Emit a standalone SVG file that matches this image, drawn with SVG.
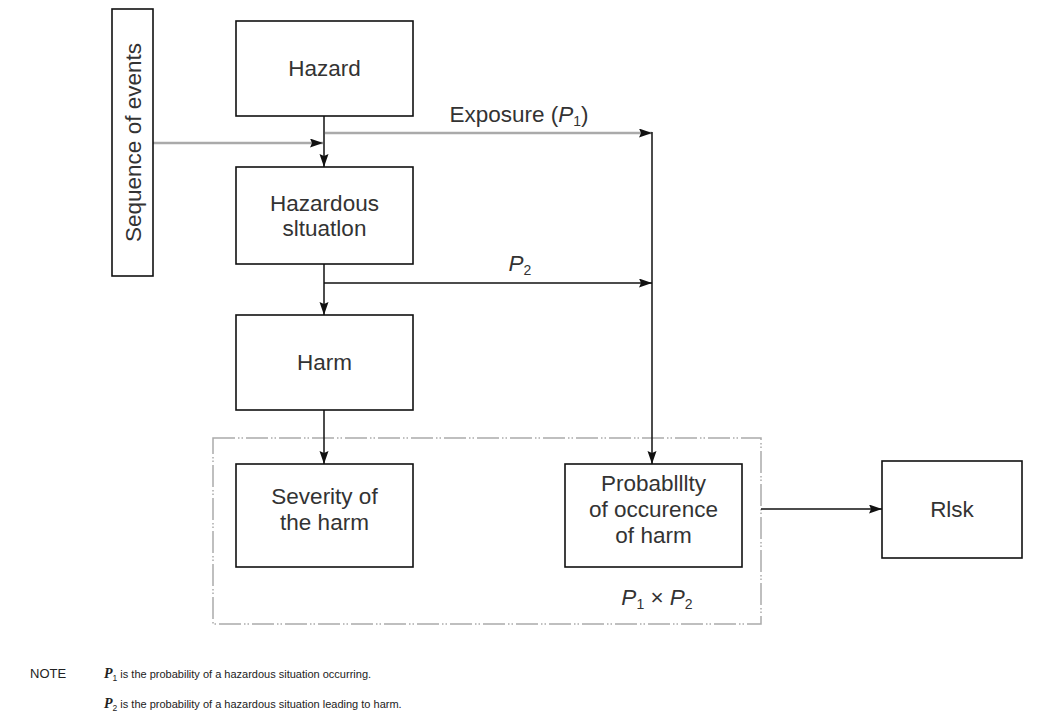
<svg xmlns="http://www.w3.org/2000/svg" width="1048" height="726" viewBox="0 0 1048 726">
<style>
.box{fill:#fff;stroke:#111;stroke-width:1.6}
.lbl{font-family:"Liberation Sans",Arial,sans-serif;font-size:22.5px;fill:#333;text-anchor:middle}
.it{font-style:italic}
.note{font-family:"Liberation Sans",Arial,sans-serif;font-size:11px;fill:#222}
.ln{fill:none;stroke:#111;stroke-width:1.5}
.gr{fill:none;stroke:#aaa;stroke-width:2.5}
.dash{fill:none;stroke:#aaa;stroke-width:1.5;stroke-dasharray:22 3 1.5 2 1.5 3}
</style>
<defs>
<marker id="ah" markerUnits="userSpaceOnUse" markerWidth="14" markerHeight="10" refX="13" refY="4.5" orient="auto">
<path d="M0,0 L13,4.5 L0,9 L2,4.5 z" fill="#111"/>
</marker>
</defs>
<rect class="dash" x="213" y="438" width="548" height="186"/>
<g id="connectors">
<line class="gr" x1="153" y1="143" x2="323" y2="143" marker-end="url(#ah)"/>
<line class="gr" x1="325" y1="133" x2="652" y2="133" marker-end="url(#ah)"/>
<line class="ln" x1="652" y1="132" x2="652" y2="464" marker-end="url(#ah)"/>
<line class="ln" x1="324" y1="116" x2="324" y2="167" marker-end="url(#ah)"/>
<line class="ln" x1="324" y1="264" x2="324" y2="315" marker-end="url(#ah)"/>
<line class="ln" x1="324" y1="283" x2="652" y2="283" marker-end="url(#ah)"/>
<line class="ln" x1="324" y1="410" x2="324" y2="464" marker-end="url(#ah)"/>
<line class="ln" x1="761" y1="509" x2="882" y2="509" marker-end="url(#ah)"/>
</g>
<g id="sequence">
<rect class="box" x="112" y="9" width="41" height="267"/>
<text class="lbl" transform="translate(140.5,142.5) rotate(-90)">Sequence of events</text>
</g>
<g id="hazard">
<rect class="box" x="236" y="21" width="177" height="95"/>
<text class="lbl" x="324.5" y="76">Hazard</text>
</g>
<g id="hazardous">
<rect class="box" x="236" y="167" width="177" height="97"/>
<text class="lbl" x="324.5" y="211">Hazardous</text>
<text class="lbl" x="324.5" y="236">sltuatlon</text>
</g>
<g id="harm">
<rect class="box" x="236" y="315" width="177" height="95"/>
<text class="lbl" x="324.5" y="370">Harm</text>
</g>
<g id="severity">
<rect class="box" x="236" y="464" width="177" height="103"/>
<text class="lbl" x="324.5" y="504">Severity of</text>
<text class="lbl" x="324.5" y="530">the harm</text>
</g>
<g id="probability">
<rect class="box" x="565" y="464" width="177" height="103"/>
<text class="lbl" x="653.5" y="491">Probablllty</text>
<text class="lbl" x="653.5" y="517">of occurence</text>
<text class="lbl" x="653.5" y="543">of harm</text>
</g>
<g id="risk">
<rect class="box" x="882" y="461" width="140" height="97"/>
<text class="lbl" x="952" y="517">Rlsk</text>
</g>
<g id="labels">
<text class="lbl" x="519" y="122">Exposure (<tspan class="it">P</tspan><tspan font-size="14" dy="4">1</tspan><tspan dy="-4">)</tspan></text>
<text class="lbl" x="520" y="271"><tspan class="it">P</tspan><tspan font-size="14" dy="4">2</tspan></text>
<text class="lbl" x="657" y="605"><tspan class="it">P</tspan><tspan font-size="14" dy="4">1</tspan><tspan dy="-4"> × </tspan><tspan class="it">P</tspan><tspan font-size="14" dy="4">2</tspan></text>
</g>
<g id="note">
<text class="note" x="30" y="678" style="font-size:13px">NOTE</text>
<text class="note" x="104" y="678"><tspan font-family="Liberation Serif" font-style="italic" font-weight="bold" font-size="14">P</tspan><tspan font-size="8.5" dy="3">1</tspan><tspan dy="-3"> is the probability of a hazardous situation occurring.</tspan></text>
<text class="note" x="104" y="708"><tspan font-family="Liberation Serif" font-style="italic" font-weight="bold" font-size="14">P</tspan><tspan font-size="8.5" dy="3">2</tspan><tspan dy="-3"> is the probability of a hazardous situation leading to harm.</tspan></text>
</g>
</svg>
